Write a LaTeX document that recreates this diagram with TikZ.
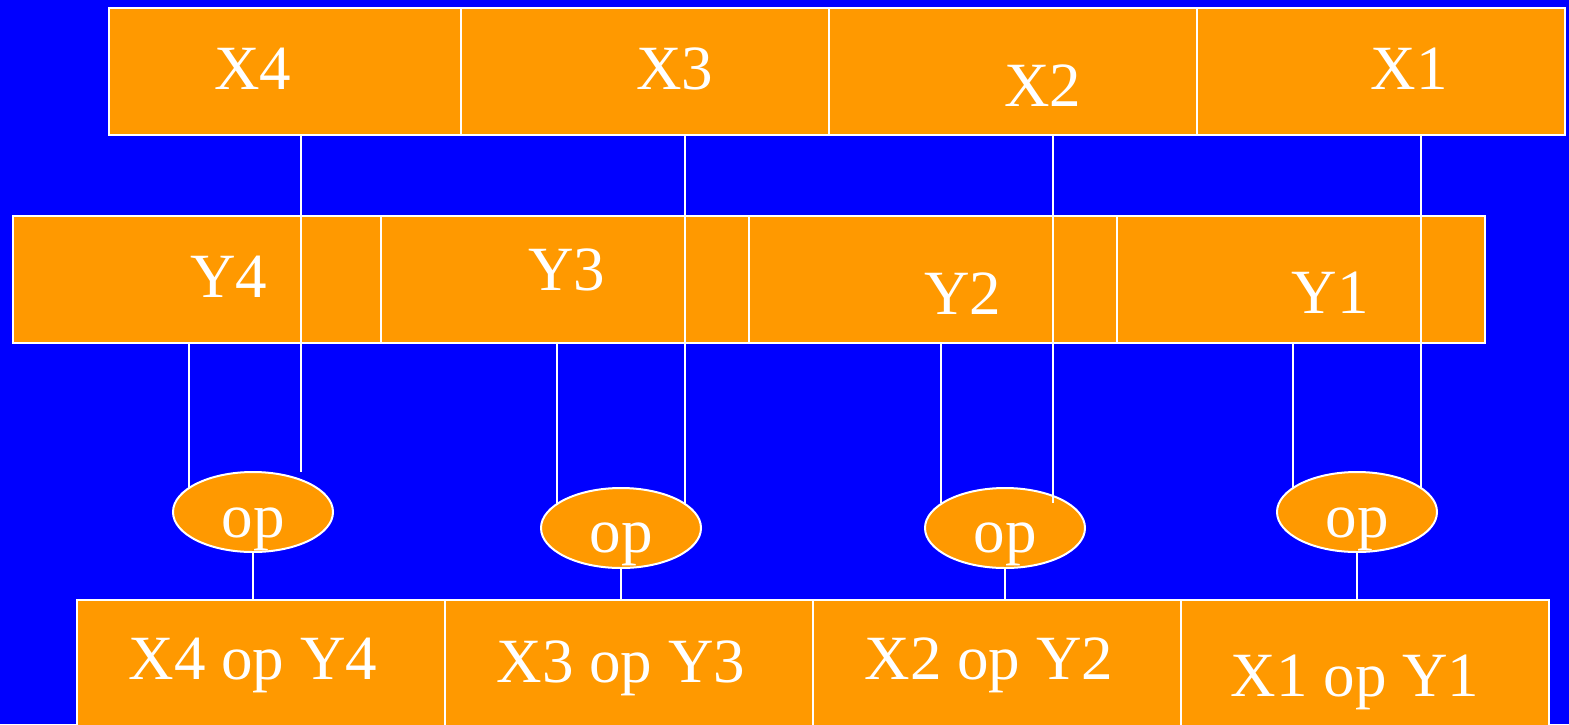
\documentclass[tikz,border=0pt]{standalone}
\usepackage{fontspec}
\setmainfont{Liberation Serif}
\usepackage{xcolor}
\usetikzlibrary{shapes.geometric}
\definecolor{boxorange}{HTML}{FF9900}
\definecolor{slideblue}{HTML}{0000FF}
\tikzset{
  cell/.style={draw=white, line width=2pt, fill=boxorange, rectangle, inner sep=0pt, outer sep=0pt, minimum height=127pt},
  opnode/.style={draw=white, line width=2pt, fill=boxorange, ellipse, inner sep=0pt, outer sep=0pt, minimum width=160pt, minimum height=80pt},
  wire/.style={draw=white, line width=2pt},
  txt/.style={text=white, anchor=base, inner sep=0pt, font=\fontsize{63pt}{70pt}\selectfont}
}
\begin{document}
\begin{tikzpicture}[x=1pt, y=-1pt]
            \useasboundingbox (0,0) rectangle (1569,724);
            \clip (0,0) rectangle (1569,724);
            \fill[slideblue] (0,0) rectangle (1569,724);

            % X register
            \node[cell, minimum width=352pt] (xc4) at (285,71.5) {};
            \node[cell, minimum width=368pt] (xc3) at (645,71.5) {};
            \node[cell, minimum width=368pt] (xc2) at (1013,71.5) {};
            \node[cell, minimum width=368pt] (xc1) at (1381,71.5) {};

            % Y register
            \node[cell, minimum width=368pt] (yc4) at (197,279.5) {};
            \node[cell, minimum width=368pt] (yc3) at (565,279.5) {};
            \node[cell, minimum width=368pt] (yc2) at (933,279.5) {};
            \node[cell, minimum width=368pt] (yc1) at (1301,279.5) {};

            % Result register
            \node[cell, minimum width=368pt, minimum height=140pt] (rc4) at (261,670) {};
            \node[cell, minimum width=368pt, minimum height=140pt] (rc3) at (629,670) {};
            \node[cell, minimum width=368pt, minimum height=140pt] (rc2) at (997,670) {};
            \node[cell, minimum width=368pt, minimum height=140pt] (rc1) at (1365,670) {};

            % Operators
            \node[opnode] (op4) at (253,512) {};
            \node[opnode] (op3) at (621,528) {};
            \node[opnode] (op2) at (1005,528) {};
            \node[opnode] (op1) at (1357,512) {};

            % Wire ends
            \coordinate (xe4) at (301,472);
            \coordinate (xe3) at (685,505);
            \coordinate (xe2) at (1053,503);
            \coordinate (xe1) at (1421,488);
            \coordinate (ye4) at (189,488);
            \coordinate (ye3) at (557,505);
            \coordinate (ye2) at (941,503);
            \coordinate (ye1) at (1293,488);

            % Wires
            \draw[wire] (xc4.south -| xe4) -- (xe4);
            \draw[wire] (xc3.south -| xe3) -- (xe3);
            \draw[wire] (xc2.south -| xe2) -- (xe2);
            \draw[wire] (xc1.south -| xe1) -- (xe1);
            \draw[wire] (yc4.south -| ye4) -- (ye4);
            \draw[wire] (yc3.south -| ye3) -- (ye3);
            \draw[wire] (yc2.south -| ye2) -- (ye2);
            \draw[wire] (yc1.south -| ye1) -- (ye1);
            \draw[wire] (op4.south) -- (op4.south |- rc4.north);
            \draw[wire] (op3.south) -- (op3.south |- rc3.north);
            \draw[wire] (op2.south) -- (op2.south |- rc2.north);
            \draw[wire] (op1.south) -- (op1.south |- rc1.north);

            % Labels
            \node[txt] (xt4) at (253,89) {X4};
            \node[txt] (xt3) at (675,89) {X3};
            \node[txt] (xt2) at (1043,106) {X2};
            \node[txt] (xt1) at (1409,89) {X1};
            \node[txt] (yt4) at (229,297) {Y4};
            \node[txt] (yt3) at (567,290) {Y3};
            \node[txt] (yt2) at (963,314) {Y2};
            \node[txt] (yt1) at (1330,313) {Y1};
            \node[txt] (ot4) at (253,537) {op};
            \node[txt] (ot3) at (621,552) {op};
            \node[txt] (ot2) at (1005,552) {op};
            \node[txt] (ot1) at (1357,537) {op};
            \node[txt] (rt4) at (253,679) {X4 op Y4};
            \node[txt] (rt3) at (621,682) {X3 op Y3};
            \node[txt] (rt2) at (989,679) {X2 op Y2};
            \node[txt] (rt1) at (1355,696) {X1 op Y1};
        \end{tikzpicture}
\end{document}
